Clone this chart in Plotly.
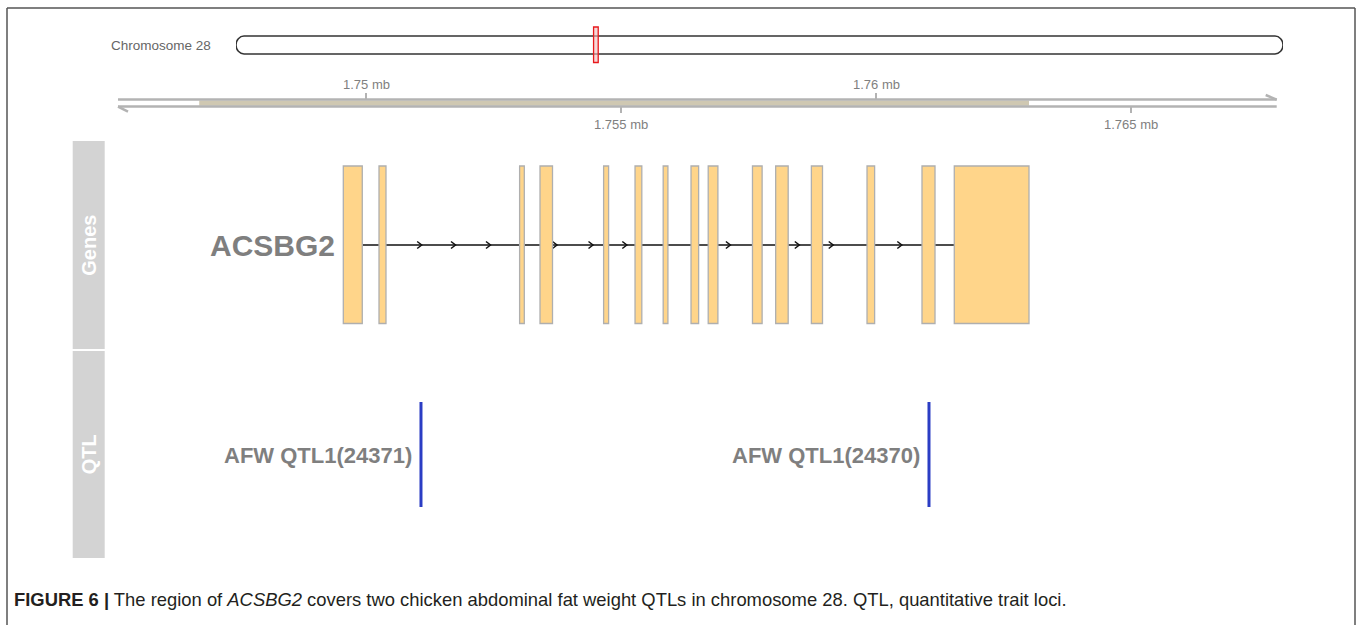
import plotly.graph_objects as go

# ---------------- data ----------------
chrom_name = "Chromosome 28"
chrom_length = 5_110_000
region_start = 1_745_137
region_end = 1_767_857
highlight_start = 1_746_730
highlight_end = 1_763_000

gene_name = "ACSBG2"
exon_starts = [1749555, 1750255, 1753012, 1753412, 1754659, 1755275, 1755827, 1756373,
               1756710, 1757578, 1758033, 1758733, 1759824, 1760902, 1761535]
exon_ends = [1749927, 1750392, 1753104, 1753657, 1754757, 1755408, 1755920, 1756522,
             1756900, 1757767, 1758278, 1758951, 1759973, 1761157, 1763000]
strand_arrows = [1751092, 1751755, 1752441, 1753745, 1754451, 1755114, 1757145,
                 1758496, 1759161, 1760506]

qtl_names = ["AFW QTL1(24371)", "AFW QTL1(24370)"]
qtl_positions = [1751078, 1761039]

tick_vals = [1750000, 1755000, 1760000, 1765000]
tick_labels = ["1.75 mb", "1.755 mb", "1.76 mb", "1.765 mb"]

track_names = ["Genes", "QTL"]

caption = ("<b>FIGURE 6 |</b> The region of <i>ACSBG2</i> covers two chicken abdominal fat "
           "weight QTLs in chromosome 28. QTL, quantitative trait loci.")

# ---------------- layout constants ----------------
W, H = 1357, 625
view_start = 1742823.5
view_end = 1769431.4
bpp = (view_end - view_start) / W          # bp per pixel on the main axis
ideo_x0, ideo_x1 = 236, 1283               # pixel span of the ideogram
chr_bpp = chrom_length / (ideo_x1 - ideo_x0)

GRAY_TXT = "#7f7f7f"
AXIS_COL = "#B3B3B3"
FONT = "Liberation Sans, Arial, sans-serif"

shapes = []
annotations = []

# frame
for x0, y0, x1, y1 in [(7, 8, 1355, 8), (7, 8, 7, 625), (1355, 8, 1355, 625)]:
    shapes.append(dict(type="line", xref="paper", yref="y", x0=x0 / W, x1=x1 / W, y0=y0, y1=y1,
                       line=dict(color="#555555", width=1.5)))

# ---------------- ideogram ----------------
r = 8 * chr_bpp
L = chrom_length
yt, yb, ym = 36, 54, 45
k = 0.5523
hy = (yb - yt) / 2
path = (f"M {r},{yt} L {L - r},{yt} "
        f"C {L - r + k * r},{yt} {L},{ym - k * hy} {L},{ym} "
        f"C {L},{ym + k * hy} {L - r + k * r},{yb} {L - r},{yb} "
        f"L {r},{yb} "
        f"C {r - k * r},{yb} 0,{ym + k * hy} 0,{ym} "
        f"C 0,{ym - k * hy} {r - k * r},{yt} {r},{yt} Z")
shapes.append(dict(type="path", xref="x2", yref="y", path=path,
                   line=dict(color="#333333", width=1.5), fillcolor="white"))
shapes.append(dict(type="rect", xref="x2", yref="y", x0=region_start, x1=region_end, y0=27, y1=62.5,
                   line=dict(color="#E8191C", width=1.3), fillcolor="rgba(240,190,190,0.6)"))
annotations.append(dict(xref="x2", yref="y", x=0, y=ym, text=chrom_name, showarrow=False,
                        xanchor="right", yanchor="middle", xshift=-23,
                        font=dict(family=FONT, size=13.5, color="#666666")))

# ---------------- genome axis ----------------
shapes.append(dict(type="rect", xref="x", yref="y", x0=highlight_start, x1=highlight_end,
                   y0=100.5, y1=105.7, fillcolor="#CFC8B2", line=dict(width=0)))
for yy in (99.6, 106.6):
    shapes.append(dict(type="line", xref="x", yref="y", x0=region_start, x1=region_end, y0=yy, y1=yy,
                       line=dict(color=AXIS_COL, width=2.5)))
shapes.append(dict(type="line", xref="x", yref="y", x0=region_end - 11 * bpp, x1=region_end,
                   y0=95, y1=99.6, line=dict(color=AXIS_COL, width=2.5)))
shapes.append(dict(type="line", xref="x", yref="y", x0=region_start, x1=region_start + 10 * bpp,
                   y0=106.6, y1=111.6, line=dict(color=AXIS_COL, width=2.5)))
for i, (tv, tl) in enumerate(zip(tick_vals, tick_labels)):
    if i % 2 == 0:
        ty0, ty1, ly = 93, 99, 84
    else:
        ty0, ty1, ly = 107, 113, 124
    shapes.append(dict(type="line", xref="x", yref="y", x0=tv, x1=tv, y0=ty0, y1=ty1,
                       line=dict(color=AXIS_COL, width=2)))
    annotations.append(dict(xref="x", yref="y", x=tv, y=ly, text=tl, showarrow=False,
                            xanchor="center", yanchor="middle",
                            font=dict(family=FONT, size=13, color=GRAY_TXT)))

# ---------------- track strips ----------------
strips = [(141, 349), (351, 558)]
for name, (s0, s1) in zip(track_names, strips):
    shapes.append(dict(type="rect", xref="paper", yref="y", x0=72.7 / W, x1=104.7 / W, y0=s0, y1=s1,
                       fillcolor="#D3D3D3", line=dict(width=0)))
    annotations.append(dict(xref="paper", yref="y", x=88.7 / W, y=(s0 + s1) / 2, text=name,
                            textangle=-90, showarrow=False, xanchor="center", yanchor="middle",
                            font=dict(family=FONT, size=20, color="white", weight="bold")))

# ---------------- gene model ----------------
y_int = 245
shapes.append(dict(type="line", xref="x", yref="y", x0=exon_ends[0], x1=exon_starts[-1],
                   y0=y_int, y1=y_int, line=dict(color="#111111", width=1.3)))
for a in strand_arrows:
    shapes.append(dict(type="path", xref="x", yref="y",
                       path=f"M {a - 4.5 * bpp},{y_int - 3.5} L {a},{y_int} L {a - 4.5 * bpp},{y_int + 3.5}",
                       line=dict(color="#111111", width=1.5)))
for s, e in zip(exon_starts, exon_ends):
    shapes.append(dict(type="rect", xref="x", yref="y", x0=s, x1=e, y0=166, y1=323.5,
                       fillcolor="#FFD58A", line=dict(color="#AFAFAF", width=1.3)))
annotations.append(dict(xref="x", yref="y", x=exon_starts[0], y=y_int, text=gene_name,
                        showarrow=False, xanchor="right", yanchor="middle", xshift=-6,
                        font=dict(family=FONT, size=30, color=GRAY_TXT, weight="bold")))

# ---------------- QTLs ----------------
for name, pos in zip(qtl_names, qtl_positions):
    shapes.append(dict(type="line", xref="x", yref="y", x0=pos, x1=pos, y0=402, y1=507,
                       line=dict(color="#2B3DC4", width=3)))
    annotations.append(dict(xref="x", yref="y", x=pos, y=455, text=name, showarrow=False,
                            xanchor="right", yanchor="middle", xshift=-7,
                            font=dict(family=FONT, size=22, color=GRAY_TXT, weight="bold")))

# ---------------- caption ----------------
annotations.append(dict(xref="paper", yref="y", x=12 / W, y=599, text=caption, showarrow=False,
                        xanchor="left", yanchor="middle",
                        font=dict(family=FONT, size=18.4, color="#231F20")))

fig = go.Figure()
fig.add_trace(go.Scatter(x=qtl_positions, y=[455, 455], mode="markers",
                         marker=dict(opacity=0), hoverinfo="skip", showlegend=False))
fig.add_trace(go.Scatter(x=[0, chrom_length], y=[ym, ym], xaxis="x2", yaxis="y", mode="markers",
                         marker=dict(opacity=0), hoverinfo="skip", showlegend=False))
fig.update_layout(
    width=W, height=H, margin=dict(l=0, r=0, t=0, b=0),
    paper_bgcolor="white", plot_bgcolor="white", showlegend=False,
    xaxis=dict(range=[view_start, view_end], domain=[0, 1], visible=False, fixedrange=True),
    xaxis2=dict(range=[0, chrom_length], domain=[ideo_x0 / W, ideo_x1 / W], anchor="y",
                visible=False),
    yaxis=dict(range=[H, 0], domain=[0, 1], visible=False),
    shapes=shapes, annotations=annotations,
)
fig.write_html("out.html", config={"displayModeBar": False},
               post_script="document.body.style.margin='0';document.body.style.overflow='hidden';")
